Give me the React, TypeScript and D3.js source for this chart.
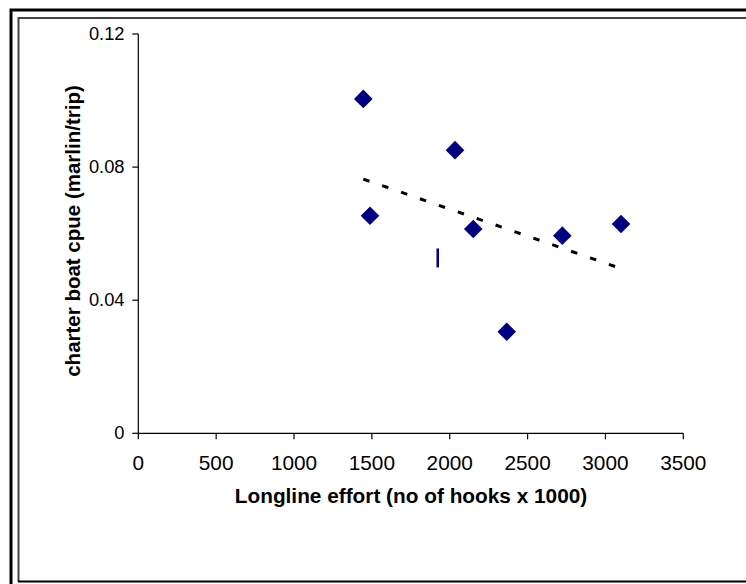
import React from "react";
import * as d3 from "d3";

const effortX: number[] = [1445, 2034, 1488, 2151, 2723, 3100, 2366];
const cpueY: number[] = [0.1005, 0.0851, 0.0654, 0.0614, 0.0594, 0.0629, 0.0305];
const barX: number[] = [1923];
const barY: number[] = [0.0527];
const barHalf: number[] = [0.00285];
const trendX: number[] = [1445, 3100];
const trendY: number[] = [0.0764, 0.0495];
const xTicks: number[] = [0, 500, 1000, 1500, 2000, 2500, 3000, 3500];
const yTicks: number[] = [0, 0.04, 0.08, 0.12];
const yTickLabels: string[] = ["0", "0.04", "0.08", "0.12"];
const xTitle = "Longline effort (no of hooks x 1000)";
const yTitle = "charter boat cpue (marlin/trip)";

export default function App() {
  const W = 746, H = 584;
  const x = d3.scaleLinear().domain([0, 3500]).range([138.3, 683.3]);
  const y = d3.scaleLinear().domain([0, 0.12]).range([433.3, 34]);
  const font = "'Liberation Sans', Arial, sans-serif";
  const trendLine = d3.line<number>().x((d) => x(trendX[d])).y((d) => y(trendY[d]));
  const dsz = 9.3;
  return (
    <svg width={W} height={H} style={{ position: "absolute", left: 0, top: 0, background: "#fff" }}>
      <rect x={0} y={0} width={W} height={H} fill="#fff" />
      {/* frames */}
      <path d={`M11,${H} V10 H${W}`} fill="none" stroke="#000" strokeWidth={3} />
      <path d={`M18.5,581.5 V18 H${W}`} fill="none" stroke="#444" strokeWidth={2} />
      <line x1={18} y1={581.5} x2={W} y2={581.5} stroke="#000" strokeWidth={2} />
      {/* axes */}
      <line x1={x(0)} y1={y(0.12)} x2={x(0)} y2={y(0)} stroke="#000" strokeWidth={1.2} />
      <line x1={x(0)} y1={y(0)} x2={x(3500)} y2={y(0)} stroke="#000" strokeWidth={1.2} />
      {yTicks.map((t, i) => (
        <g key={"yt" + i}>
          <line x1={x(0) - 6} x2={x(0)} y1={y(t)} y2={y(t)} stroke="#000" strokeWidth={1.2} />
          <text x={124.5} y={y(t) + 6} textAnchor="end" fontFamily={font} fontSize={18.3} fill="#000">
            {yTickLabels[i]}
          </text>
        </g>
      ))}
      {xTicks.map((t, i) => (
        <g key={"xt" + i}>
          <line x1={x(t)} x2={x(t)} y1={y(0)} y2={y(0) + 6} stroke="#000" strokeWidth={1.2} />
          <text x={x(t)} y={470} textAnchor="middle" fontFamily={font} fontSize={20.8} fill="#000">
            {String(t)}
          </text>
        </g>
      ))}
      <text x={411} y={503} textAnchor="middle" fontFamily={font} fontSize={20.8} fontWeight="bold" fill="#000">
        {xTitle}
      </text>
      <text
        transform={`translate(80,231) rotate(-90)`}
        textAnchor="middle"
        fontFamily={font}
        fontSize={20.5}
        fontWeight="bold"
        fill="#000"
      >
        {yTitle}
      </text>
      {/* trend line */}
      <path d={trendLine([0, 1]) || ""} fill="none" stroke="#000" strokeWidth={3} strokeDasharray="6.5,13.5" />
      {/* diamonds */}
      {effortX.map((v, i) => {
        const cx = x(v), cy = y(cpueY[i]);
        return (
          <path
            key={"d" + i}
            d={`M${cx},${cy - dsz} L${cx + dsz},${cy} L${cx},${cy + dsz} L${cx - dsz},${cy} Z`}
            fill="#000080"
          />
        );
      })}
      {/* bar marker */}
      {barX.map((v, i) => (
        <line
          key={"b" + i}
          x1={x(v)}
          x2={x(v)}
          y1={y(barY[i] + barHalf[i])}
          y2={y(barY[i] - barHalf[i])}
          stroke="#00008b"
          strokeWidth={2.5}
        />
      ))}
    </svg>
  );
}
